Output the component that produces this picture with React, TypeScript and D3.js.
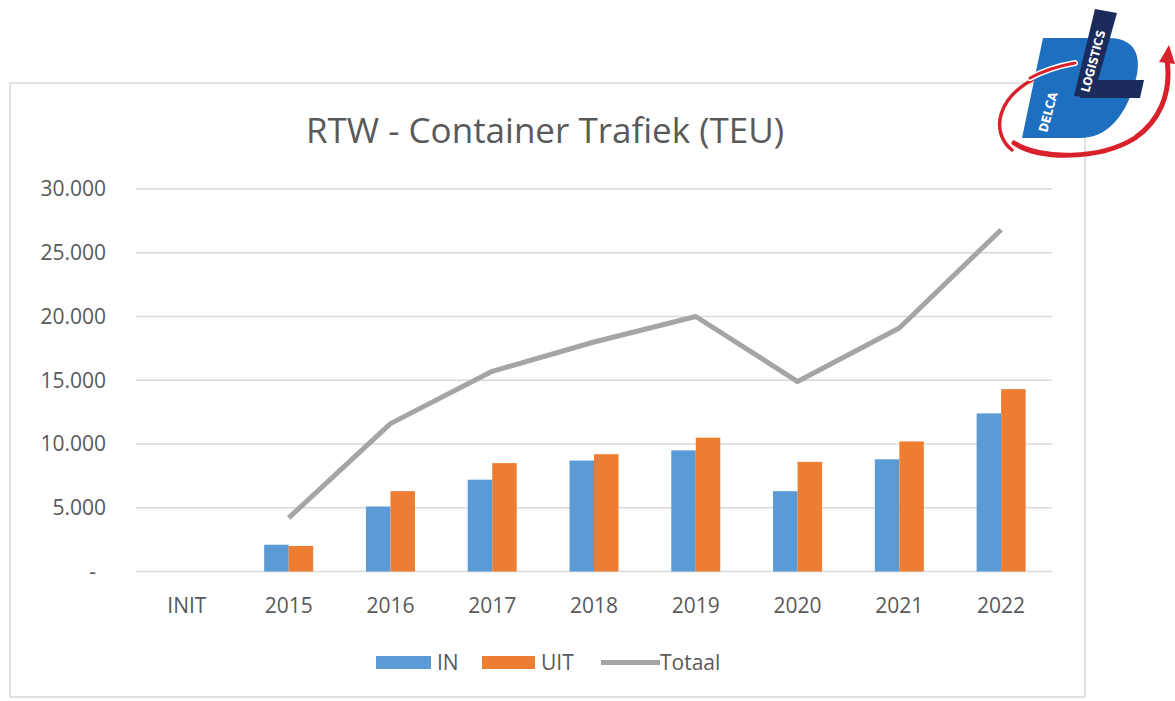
import React from "react";
import * as d3 from "d3";

const categories = ["INIT", "2015", "2016", "2017", "2018", "2019", "2020", "2021", "2022"];
const inValues: (number | null)[] = [null, 2100, 5100, 7200, 8700, 9500, 6300, 8800, 12400];
const uitValues: (number | null)[] = [null, 2000, 6300, 8500, 9200, 10500, 8600, 10200, 14300];
const totalValues: (number | null)[] = [null, 4200, 11600, 15700, 18000, 20000, 14900, 19100, 26800];
const yTicks = [0, 5000, 10000, 15000, 20000, 25000, 30000];
const yTickLabels = ["-", "5.000", "10.000", "15.000", "20.000", "25.000", "30.000"];
const seriesNames = ["IN", "UIT", "Totaal"];

const W = 1175;
const H = 701;
const BLUE = "#5b9bd5";
const ORANGE = "#ed7d31";
const GRAY = "#a5a5a5";
const TEXT = "#595959";
const FONT = "'Open Sans', sans-serif";

export default function App() {
  const x = d3.scaleBand<string>().domain(categories).range([136, 1052]).padding(0);
  const y = d3.scaleLinear().domain([0, 30000]).range([571.5, 189]);
  const barW = 24.5;
  const cx = (c: string) => (x(c) as number) + x.bandwidth() / 2;

  const line = d3
    .line<number | null>()
    .defined((d) => d != null)
    .x((_, i) => cx(categories[i]))
    .y((d) => y(d as number));

  return (
    <svg
      width={W}
      height={H}
      style={{ position: "fixed", left: 0, top: 0, background: "#fff" }}
      fontFamily={FONT}
    >
      <rect x={0} y={0} width={W} height={H} fill="#fff" />
      {/* chart frame */}
      <rect x={10} y={83} width={1075} height={614} fill="#fff" stroke="#d9d9d9" strokeWidth={1.5} />

      {/* title */}
      <text x={545} y={143} textAnchor="middle" fontSize={35} fill={TEXT}>
        RTW - Container Trafiek (TEU)
      </text>

      {/* gridlines */}
      {yTicks.map((t, i) => (
        <g key={t}>
          <line x1={136} x2={1052} y1={y(t)} y2={y(t)} stroke="#d9d9d9" strokeWidth={1.5} />
          <text
            x={i === 0 ? 96 : 106}
            y={y(t)}
            dy="0.35em"
            textAnchor="end"
            fontSize={21}
            fill={TEXT}
          >
            {yTickLabels[i]}
          </text>
        </g>
      ))}

      {/* bars */}
      {categories.map((c, i) => (
        <g key={c}>
          {inValues[i] != null && (
            <rect
              x={cx(c) - barW}
              y={y(inValues[i] as number)}
              width={barW}
              height={y(0) - y(inValues[i] as number)}
              fill={BLUE}
            />
          )}
          {uitValues[i] != null && (
            <rect
              x={cx(c)}
              y={y(uitValues[i] as number)}
              width={barW}
              height={y(0) - y(uitValues[i] as number)}
              fill={ORANGE}
            />
          )}
          <text x={cx(c)} y={606} dy="0.35em" textAnchor="middle" fontSize={21} fill={TEXT}>
            {c}
          </text>
        </g>
      ))}

      {/* total line */}
      <path d={line(totalValues) || ""} fill="none" stroke={GRAY} strokeWidth={5} strokeLinejoin="round" />

      {/* legend */}
      <g fontSize={21} fill={TEXT}>
        <rect x={376} y={656} width={55} height={13} fill={BLUE} />
        <text x={437} y={663} dy="0.35em">{seriesNames[0]}</text>
        <rect x={482} y={656} width={53} height={13} fill={ORANGE} />
        <text x={541} y={663} dy="0.35em">{seriesNames[1]}</text>
        <line x1={601} x2={660} y1={662.5} y2={662.5} stroke={GRAY} strokeWidth={5} />
        <text x={660} y={663} dy="0.35em">{seriesNames[2]}</text>
      </g>

      {/* logo */}
      <g>
        <path
          d="M1012,150 C990,132 996,96 1040,76 C1052,70 1064,66 1078,63"
          fill="none"
          stroke="#d8212b"
          strokeWidth={3.5}
          strokeLinecap="round"
        />
        <path
          d="M1043,38 L1108,38 C1140,38 1142,62 1134,86 C1124,118 1106,138 1080,138 L1022,138 Z"
          fill="#1f6fc0"
        />
        <path
          d="M1030,78 C1045,70 1058,66 1075,63"
          fill="none"
          stroke="#fff"
          strokeWidth={6}
          strokeLinecap="round"
        />
        <path
          d="M1030,78 C1045,70 1058,66 1075,63"
          fill="none"
          stroke="#d8212b"
          strokeWidth={3}
          strokeLinecap="round"
        />
        <path d="M1095,9 L1117,13 L1093,98 L1074,96 Z" fill="#1b2b5c" />
        <path d="M1086,80 L1144,80 L1140,98 L1080,98 Z" fill="#1b2b5c" />
        <text
          transform="translate(1089,93) rotate(-75)"
          fontSize={12}
          fontWeight="bold"
          fill="#fff"
          fontFamily="'DejaVu Sans Condensed', 'DejaVu Sans', sans-serif"
        >
          LOGISTICS
        </text>
        <text
          transform="translate(1047,133) rotate(-75)"
          fontSize={12.5}
          fontWeight="bold"
          fill="#fff"
          fontFamily="'DejaVu Sans Condensed', 'DejaVu Sans', sans-serif"
        >
          DELCA
        </text>
        <path
          d="M1014,143 C1040,160 1100,160 1135,138 C1158,122 1172,95 1167,60"
          fill="none"
          stroke="#d8212b"
          strokeWidth={5}
          strokeLinecap="round"
        />
        <path d="M1159,62 L1169,45 L1175,64 Z" fill="#d8212b" />
      </g>
    </svg>
  );
}
